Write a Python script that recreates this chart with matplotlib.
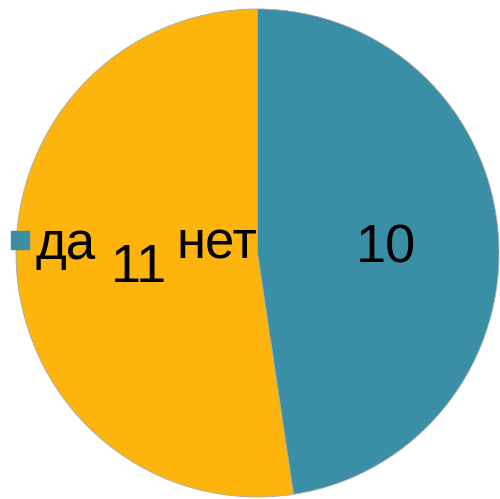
import matplotlib.pyplot as plt
from matplotlib.lines import Line2D
from matplotlib.transforms import ScaledTranslation

# data
labels = ["да", "нет"]
values = [10, 11]
colors = ["#3A8EA5", "#FDB50D"]

plt.rcParams["font.family"] = ["Liberation Sans", "DejaVu Sans"]

fig = plt.figure(figsize=(5, 4.99), dpi=100)
ax = fig.add_axes([0.032, 0.004, 0.966, 0.978])

total = sum(values)
wedges, texts, autotexts = ax.pie(
    values,
    colors=colors,
    startangle=90,
    counterclock=False,
    autopct=lambda p: f"{round(p * total / 100):d}",
    pctdistance=0.52,
    wedgeprops=dict(edgecolor="#a8a8a8", linewidth=0.6),
    textprops=dict(fontsize=39, color="black", zorder=10),
)
# nudge value labels a little
autotexts[0].set_transform(ax.transData + ScaledTranslation(0.03, -0.05, fig.dpi_scale_trans))
autotexts[1].set_transform(ax.transData + ScaledTranslation(0.07, -0.06, fig.dpi_scale_trans))
ax.set_aspect("auto")
ax.set_xlim(-1, 1)
ax.set_ylim(-1, 1)

# legend, drawn over the pie but under the value labels
handles = [Line2D([], [], marker="s", linestyle="none", markersize=13.5,
                  markerfacecolor=c, markeredgecolor=c) for c in colors]
leg = ax.legend(handles, labels, loc="center left", ncol=2, frameon=False,
                bbox_to_anchor=(0.008, 0.51), bbox_transform=fig.transFigure,
                fontsize=38, handletextpad=0.0, columnspacing=0.92,
                handlelength=0.6, borderpad=0, borderaxespad=0)
leg.set_zorder(5)

fig.savefig("out.png", dpi=100)
